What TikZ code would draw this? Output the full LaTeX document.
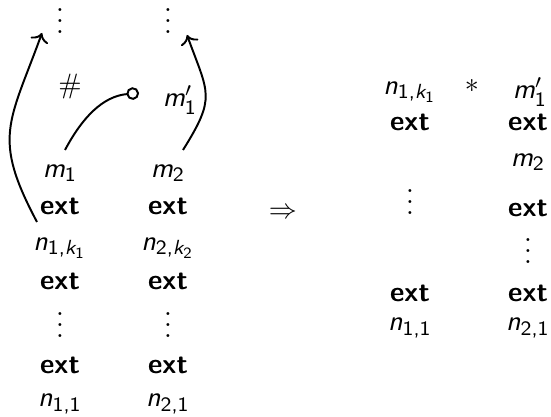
\documentclass[tikz,border=0pt]{standalone}
\usepackage{amsmath}
\usetikzlibrary{arrows.meta}
\DeclareMathSizes{10}{10}{7.3}{5.6}
\newcommand\si[1]{\text{\sffamily\itshape #1}}
\newcommand\su[1]{\text{\sffamily #1}}
\newcommand\extw{\textsf{\bfseries ext}}
\newcommand\vd{\vbox{\baselineskip4pt\lineskiplimit0pt\hbox{.}\hbox{.}\hbox{.}}}
\begin{document}
\begin{tikzpicture}[x=0.357pt,y=0.357pt,
  lbl/.style={inner sep=1pt},
  conn/.style={line width=0.7pt}]
\useasboundingbox (0,0) rectangle (551,-417);
% left column 1
\node[lbl] (dT1) at (60,-21) {\vd};
\node[lbl] (hash) at (70,-86) {$\#$};
\node[lbl] (m1) at (60,-173) {$\si{m}_{\su{1}}$};
\node[lbl] (e11) at (60,-206) {\extw};
\node[lbl] (n1k) at (60,-248) {$\si{n}_{\su{1,}\si{k}_{\su{1}}}$};
\node[lbl] (e12) at (60,-281) {\extw};
\node[lbl] (d1) at (60,-325) {\vd};
\node[lbl] (e13) at (60,-365) {\extw};
\node[lbl] (n11) at (60,-404) {$\si{n}_{\su{1,1}}$};
% left column 2
\node[lbl] (dT2) at (168,-21) {\vd};
\node[lbl] (m1p) at (180,-100) {$\si{m}'_{\su{1}}$};
\node[lbl] (m2) at (168,-173) {$\si{m}_{\su{2}}$};
\node[lbl] (e21) at (168,-206) {\extw};
\node[lbl] (n2k) at (168,-248) {$\si{n}_{\su{2,}\si{k}_{\su{2}}}$};
\node[lbl] (e22) at (168,-281) {\extw};
\node[lbl] (d2) at (168,-325) {\vd};
\node[lbl] (e23) at (168,-365) {\extw};
\node[lbl] (n21) at (168,-404) {$\si{n}_{\su{2,1}}$};
% implication
\node[lbl] (imp) at (283,-213) {$\Rightarrow$};
% right side
\node[lbl] (rn1k) at (410,-92) {$\si{n}_{\su{1,}\si{k}_{\su{1}}}$};
\node[lbl] (ast) at (472,-86) {$\ast$};
\node[lbl] (rm1p) at (530,-92) {$\si{m}'_{\su{1}}$};
\node[lbl] (re1) at (410,-122) {\extw};
\node[lbl] (re2) at (528,-122) {\extw};
\node[lbl] (rm2) at (528,-162) {$\si{m}_{\su{2}}$};
\node[lbl] (rd1) at (410,-202) {\vd};
\node[lbl] (re3) at (528,-208) {\extw};
\node[lbl] (rd2) at (528,-251) {\vd};
\node[lbl] (re4) at (410,-293) {\extw};
\node[lbl] (re5) at (528,-293) {\extw};
\node[lbl] (rn11) at (410,-328) {$\si{n}_{\su{1,1}}$};
\node[lbl] (rn21) at (528,-328) {$\si{n}_{\su{2,1}}$};
% connectors
\coordinate (hook) at (139,-93);
\coordinate (aS) at (37,-222);
\coordinate (aE) at (42,-33);
\coordinate (bS) at (183,-150);
\coordinate (bE) at (187,-35);
\coordinate (cS) at (65,-150);
\draw[conn,-{Circle[open,length=4.5pt,width=4.5pt]}] (cS) to[out=62,in=185] (hook);
\draw[conn,->] (aS) to[out=118,in=250,looseness=1.3] (aE);
\draw[conn,->] (bS) to[out=58,in=-70,looseness=1.4] (bE);
\end{tikzpicture}
\end{document}
